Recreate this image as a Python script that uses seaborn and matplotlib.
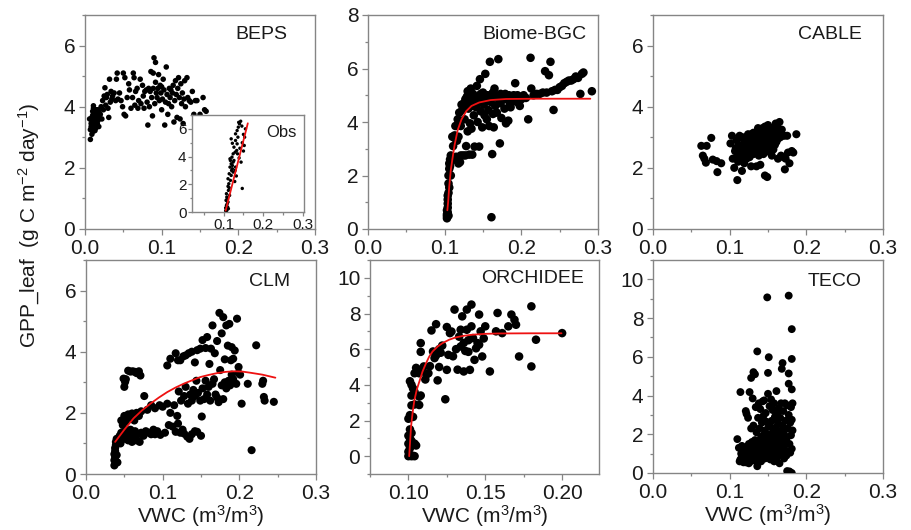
import numpy as np
import pandas as pd
import matplotlib
matplotlib.use("Agg")
import matplotlib.pyplot as plt
from matplotlib.ticker import MultipleLocator
import seaborn as sns

# ---------------- data ----------------
panel_names = ["BEPS", "Biome-BGC", "CABLE", "CLM", "ORCHIDEE", "TECO"]

beps_x = [0.007,0.007,0.008,0.008,0.009,0.009,0.010,0.010,0.011,0.011,0.012,0.012,0.013,0.013,0.014,0.014,0.015,0.015,0.016,0.016,
          0.017,0.018,0.018,0.019,0.020,0.009,0.011,0.013,0.017,0.006,
          0.021,0.022,0.023,0.024,0.025,0.026,0.027,0.028,0.029,0.030,0.031,0.032,0.033,0.034,0.035,0.036,0.038,0.040,0.041,0.042,
          0.043,0.045,0.047,0.049,0.050,0.051,0.052,0.053,0.055,0.057,0.058,0.060,0.062,0.063,0.064,0.065,0.066,0.068,0.069,0.070,
          0.072,0.073,0.075,0.076,0.077,0.078,0.080,0.081,0.082,0.083,0.084,0.085,0.086,0.087,0.088,0.089,0.089,0.090,0.091,0.092,
          0.092,0.093,0.094,0.095,0.096,0.097,0.098,0.099,0.100,0.100,0.101,0.102,0.103,0.104,0.105,0.106,0.107,0.108,0.109,0.110,
          0.111,0.112,0.113,0.114,0.115,0.116,0.117,0.118,0.119,0.120,0.121,0.122,0.123,0.124,0.125,0.126,0.127,0.128,0.129,0.130,
          0.131,0.133,0.134,0.136,0.138,0.140,0.142,0.144,0.146,0.148,0.150,0.152,0.154,0.156,0.158]
beps_y = [2.93,3.25,3.35,3.45,3.55,3.65,3.72,3.85,4.03,3.20,3.40,3.58,3.68,3.50,3.30,3.80,3.62,3.90,3.45,3.70,
          3.55,3.85,3.35,3.62,3.75,3.10,3.95,3.22,3.90,3.60,
          4.00,3.60,4.20,3.90,4.35,4.62,4.05,4.30,4.40,3.95,3.65,4.90,4.15,4.50,4.25,4.35,4.45,4.20,4.90,5.10,
          4.25,4.45,4.20,4.00,5.10,3.75,4.95,3.70,4.30,4.75,4.55,3.95,4.30,5.10,4.95,4.05,4.50,4.60,3.95,4.20,
          4.90,4.10,4.70,4.35,3.95,4.50,4.55,4.15,3.40,4.60,4.00,4.50,5.15,4.30,3.70,5.10,4.60,5.60,4.10,5.45,
          4.80,4.45,4.30,4.60,5.05,4.20,4.70,4.45,3.90,4.65,4.25,4.90,4.55,3.40,4.15,5.30,4.40,3.75,4.10,4.60,
          4.30,4.55,4.00,4.45,4.70,3.50,4.20,4.85,4.40,3.65,4.60,4.95,4.30,3.60,4.75,4.10,4.45,3.45,4.25,4.85,
          4.00,4.95,4.30,4.20,4.15,4.50,3.75,4.20,4.20,3.30,3.75,3.65,4.30,3.90,3.85]

obs_x = [0.105,0.108,0.112,0.110,0.107,0.109,0.106,0.108,0.109,0.111,0.107,0.112,0.114,0.111,0.113,0.117,0.114,0.120,0.116,0.122,
         0.119,0.124,0.126,0.121,0.124,0.129,0.126,0.133,0.135,0.134,0.130,0.136,0.130,0.134,0.137,0.140,0.138,0.143,0.146,0.150,
         0.153,0.147,0.141,0.119,0.122,0.130,0.129,0.119,0.124,0.147,0.116,0.117,0.122,0.111,0.105,0.108,0.115,0.150,0.144,0.139,
         0.155,0.152,0.132,0.128]
obs_y = [0.10,0.12,0.24,0.36,0.48,0.60,0.84,1.08,0.96,0.72,1.32,1.56,1.75,1.85,2.04,2.28,2.76,3.00,3.24,3.36,
         3.48,3.60,3.72,3.96,4.20,4.32,4.68,4.44,4.20,4.92,5.16,5.40,5.64,5.88,6.12,6.36,6.47,6.55,6.20,5.60,
         5.40,5.00,4.60,5.28,4.96,3.24,3.00,2.64,2.88,1.70,3.84,3.72,3.12,2.40,0.30,0.20,1.20,4.40,3.60,3.90,
         6.00,4.80,2.60,2.20]
obs_fit_x = [0.105, 0.161]
obs_fit_y = [0.10, 6.40]

bgc_x = [0.103,0.103,0.103,0.104,0.103,0.104,0.104,0.104,0.105,0.105,0.105,0.106,0.106,0.104,0.105,0.106,0.107,0.107,0.108,0.108,
         0.109,0.110,0.110,0.111,0.112,0.113,0.113,0.114,0.115,0.116,0.117,0.118,0.118,0.119,0.120,0.121,0.121,0.122,0.123,0.124,
         0.125,0.126,0.127,0.127,0.128,0.129,0.130,0.130,0.131,0.132,0.132,0.133,0.134,0.135,0.135,0.136,0.137,0.138,0.139,0.140,
         0.141,0.142,0.143,0.144,0.145,0.146,0.147,0.148,0.149,0.150,0.151,0.152,0.153,0.154,0.155,0.156,0.157,0.158,0.159,0.160,
         0.161,0.162,0.162,0.163,0.164,0.165,0.166,0.167,0.168,0.170,0.171,0.172,0.173,0.174,0.175,0.177,0.178,0.179,0.180,0.181,
         0.183,0.184,0.186,0.187,0.189,0.190,0.192,0.194,0.196,0.198,0.200,0.203,0.206,0.209,0.212,0.213,0.216,0.220,0.224,0.228,
         0.231,0.233,0.236,0.238,0.240,0.242,0.244,0.247,0.250,0.253,0.256,0.259,0.262,0.265,0.268,0.271,0.274,0.277,0.279,0.281,
         0.292,0.124,0.129,0.134,0.139,0.143,0.147,0.152,0.157,0.163,0.168,0.173,0.185,0.195]
bgc_y = [0.40,0.48,0.55,0.62,0.70,0.80,0.95,1.10,1.35,1.70,2.00,2.25,1.55,1.25,0.50,2.45,2.35,2.60,2.00,2.75,
         2.55,2.70,3.45,3.10,2.65,3.50,3.40,3.85,2.70,3.30,4.10,2.45,3.45,4.35,2.50,2.75,3.85,4.65,4.45,2.75,
         4.70,4.10,2.75,4.85,3.10,4.95,3.65,5.15,4.50,2.78,4.80,3.95,5.25,3.75,4.60,2.78,5.05,4.25,3.08,4.90,
         4.55,5.35,4.00,4.75,3.08,5.60,4.40,4.95,3.80,5.10,4.65,4.25,5.80,4.85,4.10,5.00,4.45,3.85,6.25,4.75,
         0.44,2.80,5.05,4.30,3.80,5.25,4.60,4.95,4.35,6.35,5.00,3.20,4.70,4.15,4.85,4.95,4.50,5.05,3.95,4.85,
         4.05,5.00,4.55,4.90,4.80,5.00,5.45,4.75,4.95,4.60,4.85,5.00,4.90,4.10,6.40,5.25,5.00,5.05,5.05,5.10,
         5.90,5.10,5.75,6.25,5.15,4.45,5.20,5.20,5.30,5.35,5.45,5.50,5.55,5.55,5.60,5.70,5.65,5.05,5.80,5.85,
         5.15,4.60,4.80,4.95,4.70,4.90,5.05,4.95,4.80,5.10,4.90,5.05,4.70,5.00]
bgc_fit_x = [0.1035,0.1045,0.106,0.108,0.110,0.113,0.117,0.122,0.128,0.135,0.145,0.160,0.180,0.220,0.290]
bgc_fit_y = [0.70,1.00,1.60,2.20,2.60,3.15,3.70,4.10,4.40,4.60,4.73,4.82,4.86,4.87,4.87]

cable_x = [0.063,0.070,0.076,0.065,0.067,0.069,0.078,0.083,0.089,0.084,
           0.101,0.103,0.104,0.106,0.107,0.108,0.109,0.110,0.110,0.111,0.112,0.113,0.114,0.115,0.116,0.116,0.117,0.118,0.119,0.120,
           0.120,0.121,0.122,0.123,0.124,0.125,0.126,0.127,0.128,0.129,0.130,0.131,0.131,0.132,0.133,0.134,0.135,0.135,0.136,0.137,
           0.138,0.138,0.139,0.140,0.140,0.141,0.142,0.143,0.143,0.144,0.145,0.145,0.146,0.146,0.147,0.148,0.148,0.149,0.149,0.150,
           0.150,0.151,0.152,0.152,0.153,0.154,0.154,0.155,0.156,0.157,0.157,0.158,0.159,0.160,0.161,0.162,0.163,0.163,0.164,0.165,
           0.166,0.167,0.168,0.170,0.171,0.172,0.173,0.175,0.176,0.178,0.181,0.183,0.187,0.160,0.155,0.137,0.128,0.118,0.124,0.134,
           0.142,0.146,0.151,0.158,0.147]
cable_y = [2.72,2.72,2.98,2.40,2.30,2.17,2.27,2.22,2.15,1.86,
           2.80,3.05,2.30,2.00,2.55,2.65,2.90,1.60,2.40,2.20,2.70,3.05,2.50,2.35,1.90,2.75,3.00,2.60,2.15,2.45,
           2.85,3.00,2.30,2.65,2.55,2.90,2.35,2.75,3.10,2.60,2.80,2.45,3.15,2.95,2.70,2.55,2.05,3.05,2.85,2.65,
           3.20,2.40,2.95,2.75,2.10,3.10,2.60,2.85,3.30,2.45,3.00,2.70,1.75,3.35,2.90,2.55,3.15,1.70,2.80,3.05,
           3.40,2.65,2.95,3.25,2.50,3.10,2.80,3.30,2.90,3.00,2.60,3.20,2.75,3.05,2.85,3.35,2.30,2.95,3.15,3.50,
           3.00,2.40,3.25,2.35,3.05,1.95,2.30,3.05,2.50,2.15,2.55,2.50,3.10,3.45,2.40,3.30,2.05,2.95,3.10,2.95,
           2.90,3.20,2.75,2.95,3.10]

clm_x = [0.037,0.037,0.038,0.037,0.038,0.038,0.039,0.040,0.041,0.039,0.040,
         0.042,0.044,0.045,0.046,0.048,0.050,0.051,0.053,0.055,0.057,0.058,0.060,0.061,0.063,0.064,0.066,0.068,0.070,0.072,
         0.075,0.078,0.082,0.085,0.088,0.090,0.093,0.097,0.103,0.108,0.113,0.117,0.120,0.123,0.126,0.128,0.132,0.135,0.138,0.142,
         0.145,0.150,
         0.046,0.048,0.050,0.052,0.055,0.058,0.060,0.063,0.066,0.069,0.072,0.076,0.080,0.085,0.090,0.096,0.100,0.106,0.110,0.115,
         0.119,0.121,0.124,0.128,0.130,0.133,0.136,0.138,0.140,0.142,0.144,0.146,0.149,0.151,0.152,0.154,0.156,0.158,0.160,0.162,
         0.165,0.167,0.169,0.171,0.173,0.175,0.177,0.179,0.181,0.183,0.186,0.188,0.190,0.192,0.196,0.199,0.203,0.211,0.216,0.222,
         0.230,0.231,0.232,0.233,0.245,
         0.049,0.051,0.050,0.052,0.055,0.058,0.061,0.064,0.066,0.069,0.071,0.106,0.110,0.117,0.120,0.123,0.127,0.130,0.134,0.138,
         0.142,0.145,0.149,0.152,0.156,0.158,0.161,0.163,0.165,0.168,0.171,0.174,0.177,0.179,0.181,0.183,0.185,0.187,0.189,0.190,
         0.192,0.194,0.197,0.199,0.201]
clm_y = [0.28,0.45,0.55,0.65,0.75,0.85,0.95,0.62,0.38,1.05,1.15,
         1.10,1.25,1.00,1.35,1.20,1.30,1.15,1.40,1.10,1.25,1.45,1.05,1.30,1.20,1.40,1.10,1.30,1.05,1.35,
         1.25,1.40,1.35,1.30,1.45,1.30,1.40,1.28,1.35,1.60,1.55,1.38,1.65,1.35,1.45,1.32,1.22,1.15,1.30,1.40,
         1.38,1.25,
         1.75,1.60,1.90,1.72,1.95,1.85,1.98,1.75,2.00,1.90,2.05,2.55,2.10,2.25,2.15,2.25,2.20,2.30,2.00,2.25,
         1.90,2.70,2.40,2.55,2.85,2.30,2.60,2.40,2.75,2.55,3.05,2.65,2.40,1.88,2.80,2.45,3.05,2.60,2.85,2.40,
         2.95,3.10,2.60,2.50,2.35,3.40,2.90,2.45,3.00,2.80,3.05,2.90,3.25,3.10,2.95,3.30,2.30,2.95,0.78,4.21,
         2.95,3.05,2.52,2.40,2.36,
         3.12,3.01,2.85,3.10,3.38,3.35,3.36,3.34,3.30,3.36,3.22,3.55,3.77,3.95,3.72,3.72,3.85,3.88,3.95,4.00,
         3.65,4.05,4.10,4.38,4.12,4.48,3.60,4.10,4.86,3.95,4.35,5.27,4.60,5.13,3.75,4.86,4.20,4.91,3.72,4.15,
         3.77,4.04,5.08,3.50,3.25]
clm_fit_x = [0.038,0.050,0.062,0.073,0.084,0.095,0.106,0.117,0.128,0.139,0.149,0.160,0.171,0.182,0.193,0.204,0.215,0.230,0.247]
clm_fit_y = [1.05,1.45,1.82,2.08,2.30,2.50,2.68,2.83,2.96,3.07,3.17,3.24,3.30,3.34,3.36,3.35,3.31,3.25,3.15]

orc_x = [0.100,0.101,0.102,0.103,0.104,0.100,0.101,0.100,0.102,0.101,0.100,0.102,0.101,0.100,0.101,0.103,0.102,0.104,0.102,0.103,
         0.102,0.101,0.104,0.105,0.104,0.107,0.107,0.104,0.105,0.107,0.108,0.108,0.110,0.112,0.113,0.114,0.108,0.108,0.111,0.115,
         0.118,0.116,0.117,0.118,0.119,0.120,0.120,0.119,0.124,0.125,0.127,0.126,0.125,0.128,0.130,0.131,0.134,0.135,0.134,0.136,
         0.136,0.138,0.138,0.139,0.140,0.141,0.141,0.142,0.143,0.145,0.146,0.146,0.147,0.148,0.150,0.149,0.144,0.139,0.137,0.133,
         0.153,0.157,0.158,0.161,0.165,0.167,0.169,0.170,0.172,0.180,0.180,0.183,0.200,0.132,0.129,0.122,0.121]
orc_y = [0.00,0.05,0.00,0.02,0.00,0.25,0.45,0.70,0.85,1.00,1.15,1.30,1.50,2.10,2.30,2.20,2.85,2.90,3.40,3.80,
         4.00,4.20,0.70,0.60,3.60,2.87,3.34,4.65,4.95,4.65,4.84,3.40,5.03,4.60,4.65,5.05,5.85,6.34,4.30,7.05,
         7.40,5.87,5.50,5.65,5.87,6.00,5.00,4.25,3.19,7.24,6.90,5.68,4.84,6.99,8.22,6.00,7.09,7.84,6.15,6.35,
         4.75,8.22,7.09,5.85,4.84,8.50,7.28,6.62,5.40,6.34,7.94,6.25,7.00,5.59,7.28,6.60,6.05,6.50,5.90,6.70,
         4.75,7.00,8.03,6.90,7.28,7.94,7.65,7.37,5.59,8.40,5.03,6.53,6.90,4.85,5.60,6.20,5.80]
orc_fit_x = [0.1005,0.1017,0.1028,0.1039,0.1055,0.1071,0.1092,0.1114,0.1135,0.1157,0.1190,0.1222,0.1265,0.1308,0.1360,0.1415,0.1500,0.1587,0.1800,0.1996]
orc_fit_y = [0.00,1.65,2.50,3.15,3.75,4.18,4.75,5.20,5.58,5.87,6.15,6.34,6.53,6.66,6.75,6.81,6.86,6.88,6.89,6.89]

teco_x = [0.110,0.112,0.113,0.114,0.115,0.116,0.117,0.118,0.119,0.120,0.121,0.122,0.122,0.123,0.124,0.125,0.125,0.126,0.126,0.127,
          0.128,0.128,0.129,0.130,0.130,0.131,0.131,0.132,0.133,0.133,0.134,0.134,0.135,0.135,0.136,0.136,0.137,0.137,0.138,0.138,
          0.139,0.139,0.140,0.140,0.141,0.141,0.142,0.142,0.143,0.143,0.144,0.144,0.145,0.145,0.146,0.146,0.147,0.147,0.148,0.148,
          0.149,0.149,0.150,0.150,0.150,0.151,0.151,0.152,0.152,0.153,0.153,0.154,0.154,0.155,0.155,0.156,0.156,0.157,0.157,0.158,
          0.158,0.159,0.159,0.160,0.160,0.161,0.161,0.162,0.162,0.163,0.163,0.164,0.164,0.165,0.165,0.166,0.166,0.167,0.167,0.168,
          0.168,0.169,0.169,0.170,0.170,0.171,0.171,0.172,0.172,0.173,0.174,0.174,0.175,0.175,0.176,0.176,0.177,0.177,0.177,0.177,
          0.178,0.178,0.179,0.179,0.180,0.180,0.181,0.181,0.181,0.181,0.181,0.182,0.182,0.181,0.180,
          0.114,0.118,0.121,0.124,0.127,0.129,0.132,0.135,0.138,0.141,0.144,0.147,0.150,0.153,0.156,0.159,0.162,0.165,0.168,0.171,
          0.116,0.120,0.124,0.128,0.132,0.136,0.140,0.144,0.148,0.152]
teco_y = [1.75,1.30,0.60,4.18,1.00,0.80,1.15,0.55,1.30,0.90,3.20,3.05,0.70,1.05,2.85,1.50,0.50,4.18,1.20,0.85,
          4.91,2.30,1.60,1.00,3.85,5.21,2.45,0.65,1.70,5.10,1.30,3.40,0.90,2.10,6.28,0.35,1.55,2.85,1.10,3.60,
          0.75,2.30,1.40,3.30,0.60,1.85,2.60,1.15,3.70,0.90,1.65,2.95,1.30,3.75,0.75,2.20,1.90,3.10,1.45,2.65,
          9.07,1.00,1.75,4.09,5.17,5.98,2.40,1.20,3.45,0.70,2.00,1.50,3.80,2.70,0.95,1.80,3.25,1.35,2.25,0.60,
          3.60,1.65,2.90,1.10,2.35,4.23,1.95,3.05,0.80,1.55,2.60,3.35,1.25,2.15,0.50,1.85,2.85,1.00,3.60,5.38,
          1.60,5.68,2.45,3.20,1.35,0.75,2.00,3.60,1.20,2.70,0.90,1.75,3.50,0.10,0.05,2.30,9.16,5.14,4.61,3.00,
          1.50,0.08,2.60,1.05,3.40,1.95,7.43,5.89,4.32,2.75,1.25,2.20,3.60,0.00,0.00,
          0.70,0.95,0.55,1.25,0.60,1.05,0.85,1.20,0.65,1.00,1.35,0.80,1.45,1.10,2.05,1.30,1.70,1.45,2.20,1.60,
          1.40,1.15,0.95,1.50,1.35,1.65,1.20,1.95,1.75,2.50]

# ---------------- styles / layout ----------------
sns.set_theme(style="ticks")
plt.rcParams["font.family"] = ["Liberation Sans", "DejaVu Sans"]
plt.rcParams["mathtext.fontset"] = "custom"
plt.rcParams["mathtext.rm"] = "Liberation Sans"
plt.rcParams["mathtext.it"] = "Liberation Sans:italic"

W, H = 911, 530
fig = plt.figure(figsize=(W / 100, H / 100), dpi=100)

def frac_box(left, top, right, bottom):
    return [left / W, 1 - bottom / H, (right - left) / W, (bottom - top) / H]

boxes = [frac_box(85, 15, 315, 229), frac_box(368, 15, 598, 229), frac_box(653, 15, 883, 229),
         frac_box(86, 260, 316, 474), frac_box(370, 260, 599, 474), frac_box(653, 260, 883, 473)]
spine_col = "#858585"
text_col = "#1a1a1a"
tick_fs = 15
panels = [
    (beps_x, beps_y, None, None, 16, (0, 0.3), (0, 7), 0.1, 2, 0.878, 0.95),
    (bgc_x, bgc_y, bgc_fit_x, bgc_fit_y, 38, (0, 0.3), (0, 8), 0.1, 2, 0.948, 0.95),
    (cable_x, cable_y, None, None, 34, (0, 0.3), (0, 7), 0.1, 2, 0.909, 0.95),
    (clm_x, clm_y, clm_fit_x, clm_fit_y, 34, (0, 0.3), (0, 7), 0.1, 2, 0.887, 0.94),
    (orc_x, orc_y, orc_fit_x, orc_fit_y, 38, (0.075, 0.224), (-1, 11), 0.05, 2, 0.934, 0.953),
    (teco_x, teco_y, None, None, 32, (0, 0.3), (0, 11), 0.1, 2, 0.909, 0.94),
]

def style_axis(ax, xlim, ylim, xmaj, ymaj, fs, tl=4, tlm=2.3, pad=3):
    ax.set_xlim(*xlim)
    ax.set_ylim(*ylim)
    ax.xaxis.set_major_locator(MultipleLocator(xmaj))
    ax.xaxis.set_minor_locator(MultipleLocator(xmaj / 2))
    ax.yaxis.set_major_locator(MultipleLocator(ymaj))
    ax.yaxis.set_minor_locator(MultipleLocator(ymaj / 2))
    for s in ax.spines.values():
        s.set_visible(True)
        s.set_color(spine_col)
        s.set_linewidth(1.0)
    ax.tick_params(which="both", direction="out", color=spine_col, labelcolor=text_col,
                   top=False, right=False, width=0.9, labelsize=fs, pad=pad)
    ax.tick_params(which="major", length=tl)
    ax.tick_params(which="minor", length=tlm)
    ax.set_xlabel("")
    ax.set_ylabel("")
    ax.set_facecolor("white")

axes = []
for i, (px, py, fx, fy, ms, xlim, ylim, xmaj, ymaj, tx, ty) in enumerate(panels):
    ax = fig.add_axes(boxes[i])
    sns.scatterplot(x=np.array(px), y=np.array(py), ax=ax, color="black", s=ms,
                    linewidth=0, edgecolor="none", zorder=3)
    if fx is not None:
        sns.lineplot(x=np.array(fx), y=np.array(fy), ax=ax, color="#ee1111", linewidth=1.3,
                     sort=False, estimator=None, zorder=4)
    style_axis(ax, xlim, ylim, xmaj, ymaj, tick_fs)
    if xmaj == 0.05:
        ax.xaxis.set_major_formatter(matplotlib.ticker.FormatStrFormatter("%.2f"))
    else:
        ax.xaxis.set_major_formatter(matplotlib.ticker.FormatStrFormatter("%.1f"))
    ax.yaxis.set_major_formatter(matplotlib.ticker.FormatStrFormatter("%d"))
    ax.text(tx, ty, panel_names[i], transform=ax.transAxes, ha="right", va="top",
            fontsize=14, color=text_col)
    if i >= 3:
        ax.set_xlabel("VWC (m$^3$/m$^3$)", fontsize=15, color=text_col, labelpad=0)
    axes.append(ax)

# inset with observations
ins = fig.add_axes(frac_box(192, 115, 304, 212))
sns.scatterplot(x=np.array(obs_x), y=np.array(obs_y), ax=ins, color="black", s=6,
                linewidth=0, edgecolor="none", zorder=3)
sns.lineplot(x=np.array(obs_fit_x), y=np.array(obs_fit_y), ax=ins, color="#ee1111",
             linewidth=1.3, sort=False, estimator=None, zorder=4)
style_axis(ins, (0.02, 0.303), (0, 7), 0.1, 2, 11, tl=3, tlm=1.8, pad=1)
ins.xaxis.set_major_formatter(matplotlib.ticker.FormatStrFormatter("%.1f"))
ins.text(0.93, 0.9, "Obs", transform=ins.transAxes, ha="right", va="top",
         fontsize=12, color=text_col)

fig.text(29 / W, 1 - 225 / H, "GPP_leaf  (g C m$^{-2}$ day$^{-1}$)", rotation=90,
         ha="center", va="center", fontsize=15, color=text_col)

fig.savefig("out.png", dpi=100, facecolor="white")
